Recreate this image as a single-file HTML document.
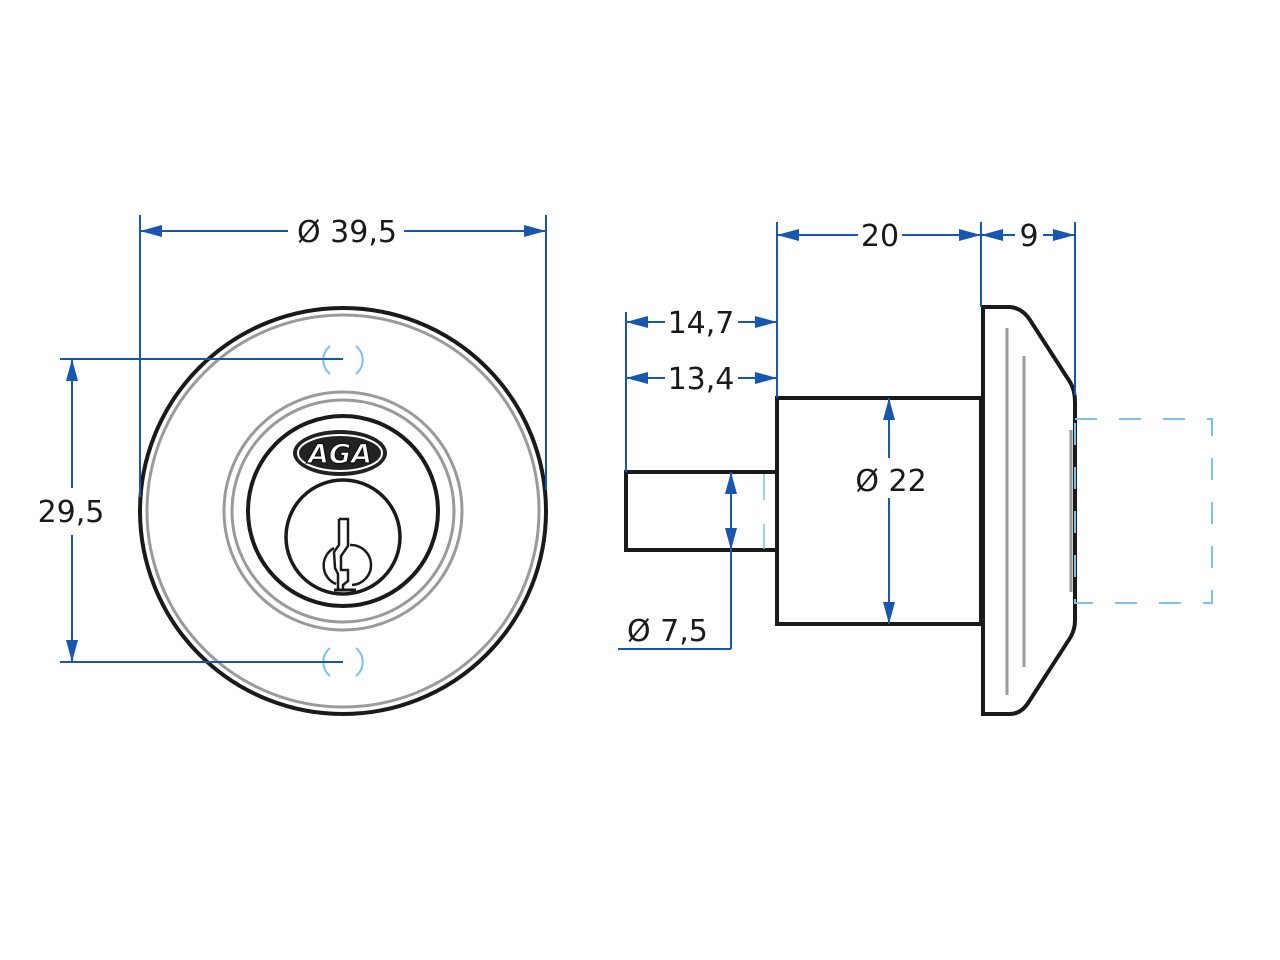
<!DOCTYPE html>
<html><head><meta charset="utf-8"><style>html,body{margin:0;padding:0;background:#fff}svg{display:block}</style></head>
<body>
<svg width="1280" height="960" viewBox="0 0 1280 960" xmlns="http://www.w3.org/2000/svg">
<defs>
<marker id="a" viewBox="0 0 22 12" refX="22" refY="6" markerWidth="22" markerHeight="12" markerUnits="userSpaceOnUse" orient="auto-start-reverse"><path d="M0,0 L22,6 L0,12 Z" fill="#1857b0"/></marker>
</defs>
<rect width="1280" height="960" fill="#fff"/>
<g font-family="DejaVu Sans, Liberation Sans, sans-serif" font-size="30" fill="#1a1a1a">
<!-- LEFT VIEW -->
<circle cx="343" cy="511" r="203" fill="none" stroke="#1a1a1a" stroke-width="4"/>
<circle cx="343" cy="511" r="196" fill="none" stroke="#9a9a9a" stroke-width="3"/>
<circle cx="343" cy="511" r="119" fill="none" stroke="#9a9a9a" stroke-width="3"/>
<circle cx="343" cy="511" r="111" fill="none" stroke="#9a9a9a" stroke-width="3"/>
<circle cx="343" cy="511" r="95" fill="none" stroke="#1a1a1a" stroke-width="4"/>
<circle cx="343" cy="537" r="57" fill="none" stroke="#1a1a1a" stroke-width="3.5"/>
<!-- key profile -->
<g fill="none" stroke="#1a1a1a" stroke-width="2.5">
<path d="M339,519 L348,519 L348,546 L341,556 L341,570 L348,570 L348,581 L343,585 L343,590"/>
<path d="M339,519 L339,545 L334,552 L335,568 L338,574 L338,590"/>
<path d="M350,545 A20,20 0 0 1 352,585"/>
<path d="M334,548 A20,20 0 0 0 336,584"/>
<path d="M334,590 L356,590" stroke-width="3"/>
</g>
<!-- AGA logo -->
<ellipse cx="340" cy="453" rx="47" ry="23" fill="#222"/>
<ellipse cx="340" cy="453" rx="42" ry="18" fill="none" stroke="#fff" stroke-width="2"/>
<text x="340" y="463" text-anchor="middle" font-size="27" font-weight="bold" font-style="italic" fill="#fff" stroke="#111" stroke-width="1.2">AGA</text>
<!-- screw holes -->
<g fill="none" stroke="#7cc3e6" stroke-width="2">
<path d="M330,346 A18,18 0 0 0 330,374"/><path d="M356,346 A18,18 0 0 1 356,374"/>
<path d="M330,648 A18,18 0 0 0 330,676"/><path d="M356,648 A18,18 0 0 1 356,676"/>
</g>
<g stroke="#1857b0" stroke-width="2" fill="none">
<line x1="140" y1="215" x2="140" y2="497"/>
<line x1="546" y1="215" x2="546" y2="490"/>
<line x1="140" y1="231" x2="288" y2="231" marker-start="url(#a)"/>
<line x1="404" y1="231" x2="546" y2="231" marker-end="url(#a)"/>
<line x1="60" y1="359" x2="343" y2="359"/>
<line x1="60" y1="662" x2="343" y2="662"/>
<line x1="72" y1="359" x2="72" y2="488" marker-start="url(#a)"/>
<line x1="72" y1="535" x2="72" y2="662" marker-end="url(#a)"/>
</g>
<text x="347" y="242" text-anchor="middle">Ø 39,5</text>
<text x="71" y="522" text-anchor="middle">29,5</text>

<!-- RIGHT VIEW -->
<g fill="none" stroke="#1a1a1a" stroke-width="4">
<rect x="777" y="398" width="204" height="226"/>
<path d="M777,472 L626,472 L626,550 L777,550"/>
<path d="M983,307 L1010,307 Q1022,308 1030,320 L1070,382 Q1075,390 1075,402 L1075,620 Q1075,630 1070,638 L1030,700 Q1022,714 1010,714 L983,714 Z"/>
</g>
<g stroke="#9a9a9a" stroke-width="3">
<line x1="1007" y1="328" x2="1007" y2="695"/>
<line x1="1024" y1="356" x2="1024" y2="667"/>
<line x1="1071" y1="430" x2="1071" y2="592"/>
</g>
<rect x="1075" y="419" width="137" height="184" fill="none" stroke="#7cc3e6" stroke-width="2" stroke-dasharray="22,22"/>
<g stroke="#7cc3e6" stroke-width="1.5"><line x1="764" y1="474" x2="764" y2="500"/><line x1="764" y1="524" x2="764" y2="549"/></g>
<g stroke="#1857b0" stroke-width="2" fill="none">
<line x1="777" y1="222" x2="777" y2="398"/>
<line x1="981" y1="222" x2="981" y2="307"/>
<line x1="1075" y1="222" x2="1075" y2="395"/>
<line x1="626" y1="312" x2="626" y2="472"/>
<line x1="777" y1="235" x2="858" y2="235" marker-start="url(#a)"/>
<line x1="902" y1="235" x2="981" y2="235" marker-end="url(#a)"/>
<line x1="981" y1="235" x2="1015" y2="235" marker-start="url(#a)"/>
<line x1="1043" y1="235" x2="1075" y2="235" marker-end="url(#a)"/>
<line x1="626" y1="322" x2="665" y2="322" marker-start="url(#a)"/>
<line x1="738" y1="322" x2="777" y2="322" marker-end="url(#a)"/>
<line x1="626" y1="378" x2="665" y2="378" marker-start="url(#a)"/>
<line x1="738" y1="378" x2="777" y2="378" marker-end="url(#a)"/>
<line x1="889" y1="398" x2="889" y2="458" marker-start="url(#a)"/>
<line x1="889" y1="498" x2="889" y2="624" marker-end="url(#a)"/>
<line x1="731" y1="472" x2="731" y2="550" marker-start="url(#a)" marker-end="url(#a)"/>
<line x1="731" y1="550" x2="731" y2="649"/>
<line x1="618" y1="649" x2="731" y2="649"/>
</g>
<text x="880" y="246" text-anchor="middle">20</text>
<text x="1029" y="246" text-anchor="middle">9</text>
<text x="701" y="333" text-anchor="middle">14,7</text>
<text x="701" y="389" text-anchor="middle">13,4</text>
<text x="891" y="491" text-anchor="middle">Ø 22</text>
<text x="627" y="641">Ø 7,5</text>
</g>
</svg>
</body></html>
